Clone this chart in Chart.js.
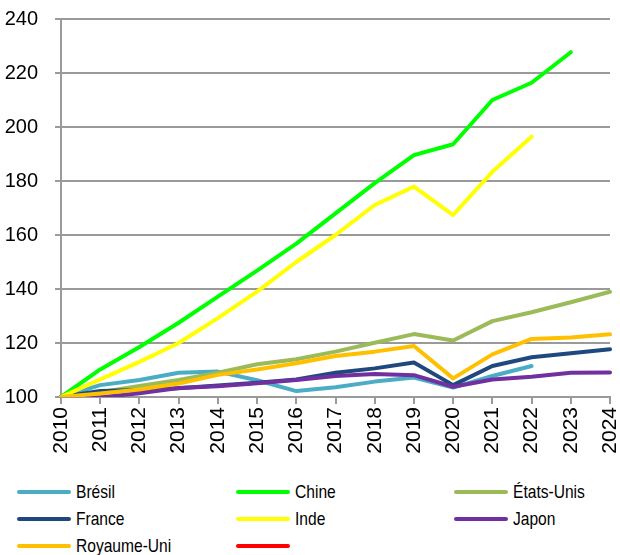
<!DOCTYPE html>
<html>
<head>
<meta charset="utf-8">
<script src="https://cdn.jsdelivr.net/npm/chart.js@4.4.1/dist/chart.umd.min.js"></script>
<style>
  html, body { margin: 0; padding: 0; background: #fff; }
  #wrap { position: relative; width: 620px; height: 555px; }
  #box { position: absolute; left: 0; top: 0; width: 620px; height: 470px; }
  #legend { position: absolute; left: 0; top: 478px; width: 620px; height: 77px;
            font-family: "Liberation Sans", Arial, sans-serif;
            font-size: 19px; color: #000; }
  .item { position: absolute; height: 27px; display: flex; align-items: center; white-space: nowrap; }
  .sw { width: 54px; height: 4px; border-radius: 2px; margin-right: 5px; flex: none; }
  .tx { display: inline-block; transform: scaleX(0.82); transform-origin: left center; }
</style>
</head>
<body>
<div id="wrap">
  <div id="box"><canvas id="c" width="620" height="470"></canvas></div>
  <div id="legend"></div>
</div>
<script>
// Indice du PIB en volume, base 100 en 2010
const annees = ['2010','2011','2012','2013','2014','2015','2016','2017','2018','2019','2020','2021','2022','2023','2024'];
const bresil     = [100, 104.4, 106.3, 109.0, 109.4, 106.2, 102.2, 103.6, 105.7, 107.2, 103.5, 107.8, 111.5, null, null];
const chine      = [100, 110.2, 118.5, 127.5, 137.2, 146.8, 156.8, 168.0, 179.2, 189.6, 193.6, 210.0, 216.4, 227.7, null];
const etatsUnis  = [100, 101.8, 104.1, 106.3, 109.0, 112.1, 114.0, 116.8, 120.1, 123.3, 120.9, 128.1, 131.4, 135.1, 139.0];
const france     = [100, 102.2, 102.6, 103.2, 104.3, 105.3, 106.5, 109.0, 110.6, 112.8, 104.4, 111.5, 114.7, 116.2, 117.7];
const inde       = [100, 106.5, 113.0, 120.0, 129.2, 139.0, 150.0, 160.0, 171.1, 177.9, 167.4, 183.4, 196.4, null, null];
const japon      = [100, 99.9, 101.4, 103.3, 104.0, 105.1, 106.3, 107.8, 108.5, 108.1, 103.8, 106.5, 107.5, 109.0, 109.1];
const royaumeUni = [100, 101.3, 102.8, 105.0, 108.2, 110.2, 112.5, 115.2, 116.8, 118.9, 106.9, 115.8, 121.5, 122.0, 123.2];
const sansNom    = [];

const series = [
  { label: 'Brésil',      data: bresil,     color: '#4bacc6' },
  { label: 'Chine',       data: chine,      color: '#00ff00' },
  { label: 'États-Unis',  data: etatsUnis,  color: '#9bbb59' },
  { label: 'France',      data: france,     color: '#1f497d' },
  { label: 'Inde',        data: inde,       color: '#ffff00' },
  { label: 'Japon',       data: japon,      color: '#7030a0' },
  { label: 'Royaume-Uni', data: royaumeUni, color: '#ffc000' },
  { label: '',            data: sansNom,    color: '#ff0000' }
];

const yTicks = { min: 100, max: 240, step: 20 };
const gridColor = '#9a9a9a';

const chart = new Chart(document.getElementById('c'), {
  type: 'line',
  data: {
    labels: annees,
    datasets: series.map((s, i) => ({
      label: s.label,
      data: s.data,
      borderColor: s.color,
      backgroundColor: s.color,
      borderWidth: 4,
      pointRadius: 0,
      tension: 0,
      borderCapStyle: 'round',
      borderJoinStyle: 'round',
      spanGaps: false,
      order: series.length - i
    }))
  },
  options: {
    responsive: false,
    animation: false,
    layout: { padding: { top: 19, right: 10, left: 0, bottom: 0 } },
    plugins: { legend: { display: false }, tooltip: { enabled: false } },
    scales: {
      x: {
        offset: false,
        grid: { display: true, drawOnChartArea: false, drawTicks: true, tickLength: 7, color: gridColor, lineWidth: 2 },
        border: { display: true, color: gridColor, width: 2 },
        ticks: {
          autoSkip: false, minRotation: 90, maxRotation: 90, padding: 3,
          color: '#000',
          font: { family: '"Liberation Sans", Arial, sans-serif', size: 21 }
        },
        afterFit: (scale) => { scale.height = 73; scale.paddingLeft = 0; scale.paddingRight = 0; }
      },
      y: {
        min: yTicks.min, max: yTicks.max,
        grid: { color: gridColor, lineWidth: 2, tickLength: 6, drawTicks: true },
        border: { display: true, color: gridColor, width: 2 },
        ticks: {
          stepSize: yTicks.step, padding: 17, color: '#000',
          font: { family: '"Liberation Sans", Arial, sans-serif', size: 20 }
        },
        afterFit: (scale) => { scale.width = 61; scale.paddingTop = 0; scale.paddingBottom = 0; }
      }
    }
  }
});

// Légende en trois colonnes, construite à partir des séries du graphique
const legend = document.getElementById('legend');
const colX = [17, 236, 454];
chart.data.datasets.forEach((ds, i) => {
  const item = document.createElement('div');
  item.className = 'item';
  item.style.left = colX[i % 3] + 'px';
  item.style.top = (Math.floor(i / 3) * 27) + 'px';
  const sw = document.createElement('div');
  sw.className = 'sw';
  sw.style.background = ds.borderColor;
  const tx = document.createElement('span');
  tx.className = 'tx';
  tx.textContent = ds.label;
  item.appendChild(sw);
  item.appendChild(tx);
  legend.appendChild(item);
});
</script>
</body>
</html>
